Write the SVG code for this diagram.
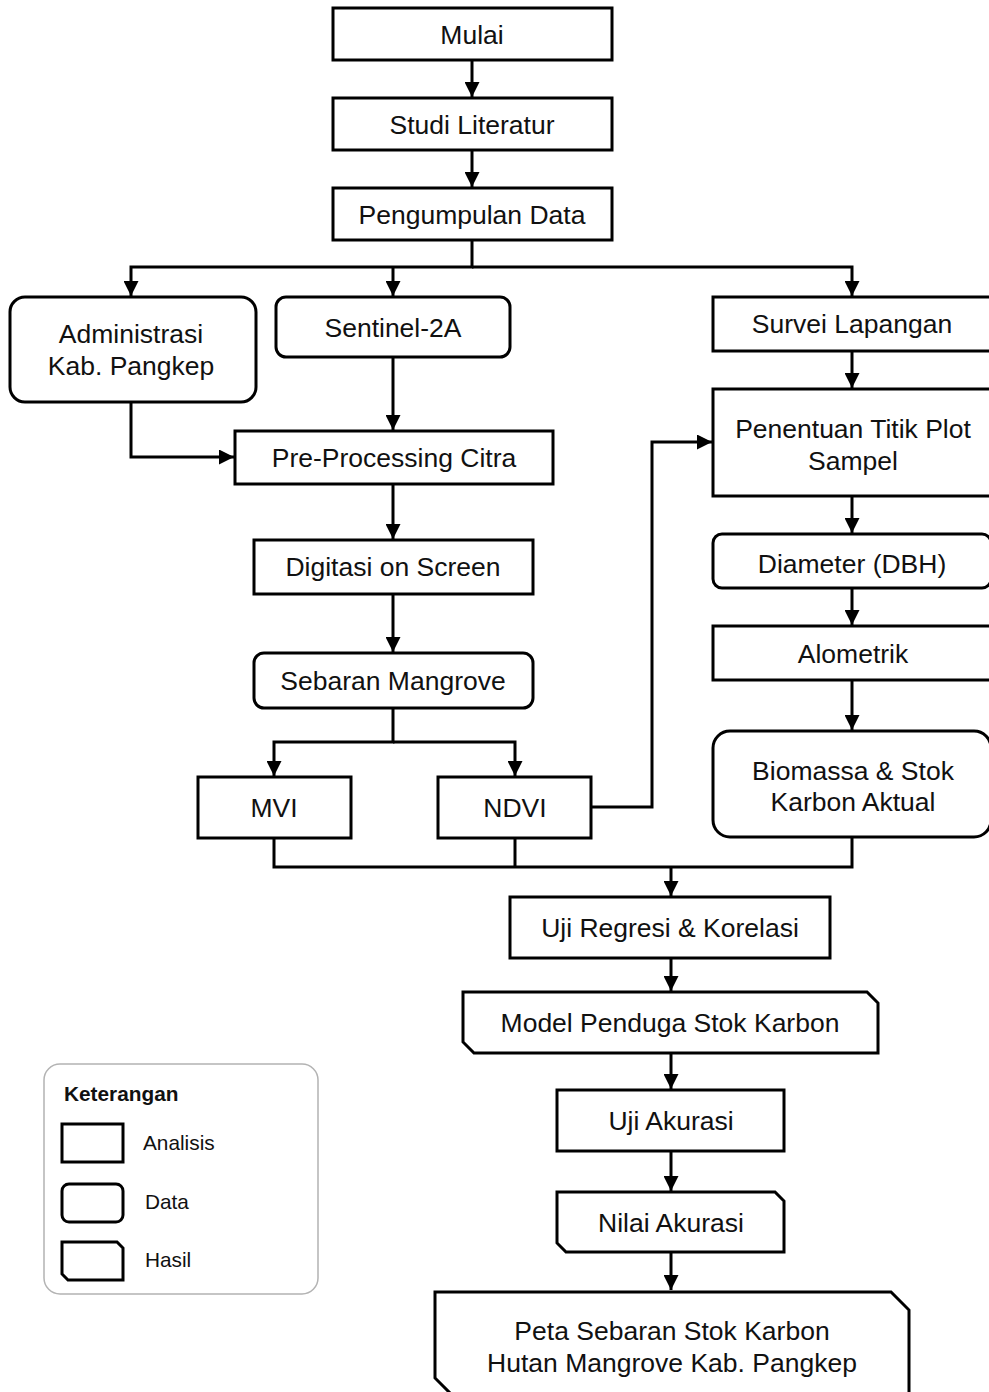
<svg xmlns="http://www.w3.org/2000/svg" width="989" height="1392" viewBox="0 0 989 1392">
<style>
.b{fill:#fff;stroke:#000;stroke-width:3}
.t{font-family:"Liberation Sans",Arial,sans-serif;font-size:26.5px;fill:#111;text-anchor:middle;dominant-baseline:central}
.c{fill:none;stroke:#000;stroke-width:3}
.lt{font-family:"Liberation Sans",Arial,sans-serif;font-size:20.8px;fill:#111}
</style>
<defs>
<marker id="a" markerUnits="userSpaceOnUse" markerWidth="15" markerHeight="15" viewBox="0 0 15 15" refX="15" refY="7.5" orient="auto">
<path d="M0,0 L15,7.5 L0,15 z" fill="#000"/>
</marker>
</defs>
<rect width="989" height="1392" fill="#fff"/>
<g id="connectors">
<path class="c" d="M472,60 V97" marker-end="url(#a)"/>
<path class="c" d="M472,150 V187" marker-end="url(#a)"/>
<path class="c" d="M472,240 V267 H131 V296" marker-end="url(#a)"/>
<path class="c" d="M393,267 V296" marker-end="url(#a)"/>
<path class="c" d="M472,267 H852 V296" marker-end="url(#a)"/>
<path class="c" d="M393,357 V430" marker-end="url(#a)"/>
<path class="c" d="M131,402 V457 H234" marker-end="url(#a)"/>
<path class="c" d="M393,484 V539" marker-end="url(#a)"/>
<path class="c" d="M393,594 V652" marker-end="url(#a)"/>
<path class="c" d="M393,708 V742 H274 V776" marker-end="url(#a)"/>
<path class="c" d="M393,742 H515 V776" marker-end="url(#a)"/>
<path class="c" d="M591,807 H652 V442 H712" marker-end="url(#a)"/>
<path class="c" d="M852,351 V388" marker-end="url(#a)"/>
<path class="c" d="M852,496 V533" marker-end="url(#a)"/>
<path class="c" d="M852,588 V625" marker-end="url(#a)"/>
<path class="c" d="M852,680 V730" marker-end="url(#a)"/>
<path class="c" d="M274,838 V867 H852 V837"/>
<path class="c" d="M515,838 V867"/>
<path class="c" d="M671,867 V896" marker-end="url(#a)"/>
<path class="c" d="M671,958 V991" marker-end="url(#a)"/>
<path class="c" d="M671,1053 V1089" marker-end="url(#a)"/>
<path class="c" d="M671,1151 V1191" marker-end="url(#a)"/>
<path class="c" d="M671,1252 V1290" marker-end="url(#a)"/>
</g>
<g id="mulai"><rect class="b" x="333" y="8" width="279" height="52"/><text class="t" x="472" y="35">Mulai</text></g>
<g id="studi"><rect class="b" x="333" y="98" width="279" height="52"/><text class="t" x="472" y="125">Studi Literatur</text></g>
<g id="pengumpulan"><rect class="b" x="333" y="188" width="279" height="52"/><text class="t" x="472" y="215">Pengumpulan Data</text></g>
<g id="administrasi"><rect class="b" x="10" y="297" width="246" height="105" rx="15"/><text class="t" x="131" y="334">Administrasi</text><text class="t" x="131" y="366">Kab. Pangkep</text></g>
<g id="sentinel"><rect class="b" x="276" y="297" width="234" height="60" rx="10"/><text class="t" x="393" y="328">Sentinel-2A</text></g>
<g id="survei"><rect class="b" x="713" y="297" width="279" height="54"/><text class="t" x="852" y="324">Survei Lapangan</text></g>
<g id="preprocessing"><rect class="b" x="235" y="431" width="318" height="53"/><text class="t" x="394" y="458">Pre-Processing Citra</text></g>
<g id="digitasi"><rect class="b" x="254" y="540" width="279" height="54"/><text class="t" x="393" y="567">Digitasi on Screen</text></g>
<g id="sebaran"><rect class="b" x="254" y="653" width="279" height="55" rx="10"/><text class="t" x="393" y="681">Sebaran Mangrove</text></g>
<g id="mvi"><rect class="b" x="198" y="777" width="153" height="61"/><text class="t" x="274" y="808">MVI</text></g>
<g id="ndvi"><rect class="b" x="438" y="777" width="153" height="61"/><text class="t" x="515" y="808">NDVI</text></g>
<g id="penentuan"><rect class="b" x="713" y="389" width="279" height="107"/><text class="t" x="853" y="429">Penentuan Titik Plot</text><text class="t" x="853" y="461">Sampel</text></g>
<g id="diameter"><rect class="b" x="713" y="534" width="278" height="54" rx="9"/><text class="t" x="852" y="564">Diameter (DBH)</text></g>
<g id="alometrik"><rect class="b" x="713" y="626" width="279" height="54"/><text class="t" x="853" y="654">Alometrik</text></g>
<g id="biomassa"><rect class="b" x="713" y="731" width="278" height="106" rx="17"/><text class="t" x="853" y="771">Biomassa &amp; Stok</text><text class="t" x="853" y="802">Karbon Aktual</text></g>
<g id="uji-regresi"><rect class="b" x="510" y="897" width="320" height="61"/><text class="t" x="670" y="928">Uji Regresi &amp; Korelasi</text></g>
<g id="model"><path class="b" d="M463,992 H867 L878,1003 V1053 H474 L463,1042 Z"/><text class="t" x="670" y="1023">Model Penduga Stok Karbon</text></g>
<g id="uji-akurasi"><rect class="b" x="557" y="1090" width="227" height="61"/><text class="t" x="671" y="1121">Uji Akurasi</text></g>
<g id="nilai"><path class="b" d="M557,1192 H775 L784,1201 V1252 H566 L557,1243 Z"/><text class="t" x="671" y="1223">Nilai Akurasi</text></g>
<g id="peta"><path class="b" d="M435,1292 H891 L909,1310 V1396 H453 L435,1378 Z"/><text class="t" x="672" y="1331">Peta Sebaran Stok Karbon</text><text class="t" x="672" y="1363">Hutan Mangrove Kab. Pangkep</text></g>
<g id="legend">
<rect x="44" y="1064" width="274" height="230" rx="16" fill="#fff" stroke="#b3b3b3" stroke-width="1.5"/>
<text class="lt" x="64" y="1101" font-weight="bold">Keterangan</text>
<rect class="b" x="62" y="1124" width="61" height="38" stroke-width="2.5"/>
<text class="lt" x="143" y="1150">Analisis</text>
<rect class="b" x="62" y="1184" width="61" height="38" rx="7" stroke-width="2.5"/>
<text class="lt" x="145" y="1209">Data</text>
<path class="b" stroke-width="2.5" d="M62,1242 H117 L123,1248 V1280 H68 L62,1274 Z"/>
<text class="lt" x="145" y="1267">Hasil</text>
</g>
</svg>
